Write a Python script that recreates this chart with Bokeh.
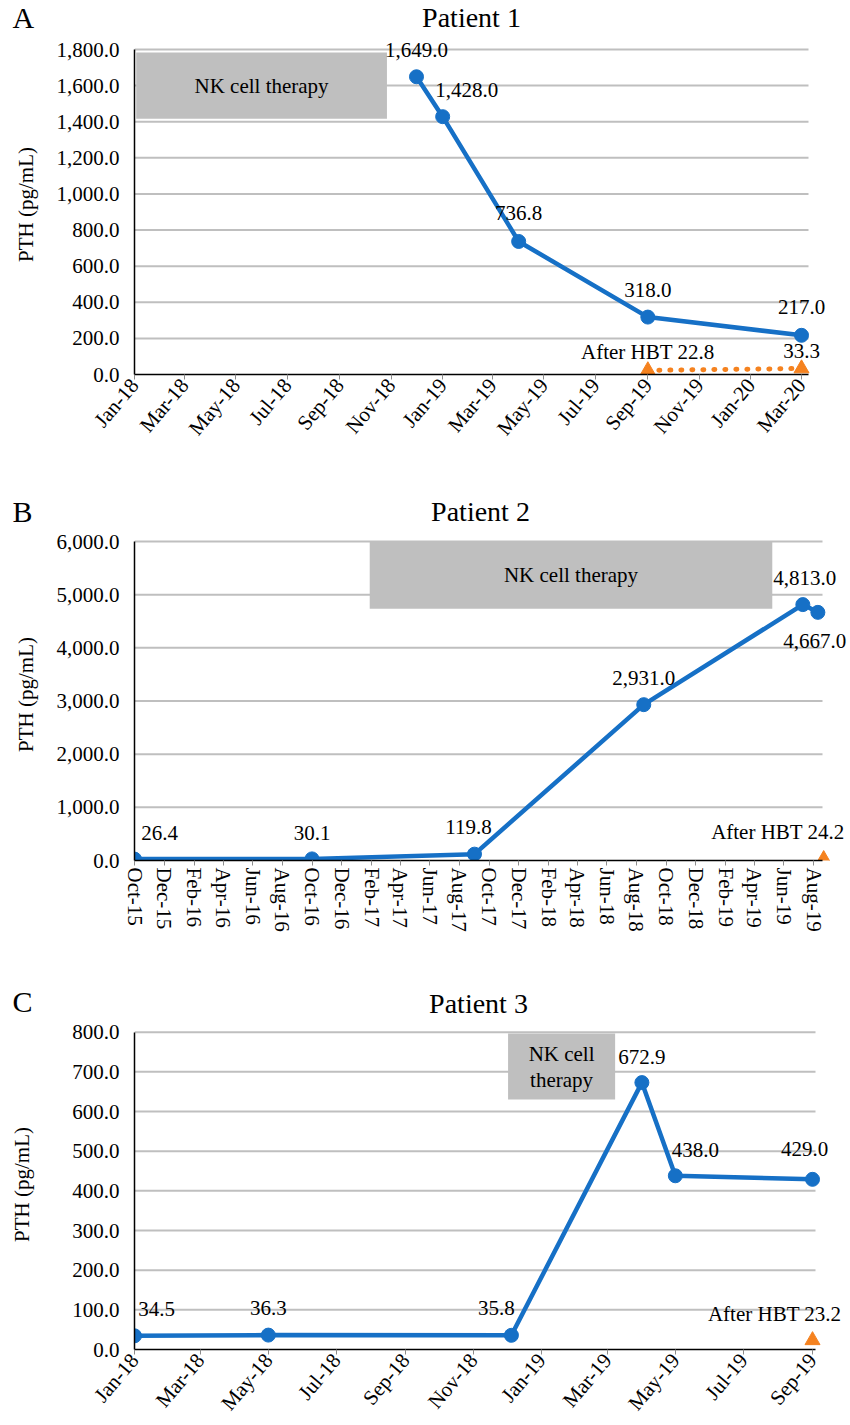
import pandas as pd
from bokeh.plotting import figure
from bokeh.layouts import column, row
from bokeh.models import (Range1d, FixedTicker, NumeralTickFormatter,
                          DatetimeTickFormatter, Label)
from bokeh.embed import file_html
from bokeh.resources import INLINE

# ---------------- data ----------------
# Patient 1
a_dates = ["2018-12-01", "2019-01-01", "2019-04-01", "2019-09-01", "2020-03-01"]
a_pth = [1649.0, 1428.0, 736.8, 318.0, 217.0]
a_hbt_dates = ["2019-09-01", "2020-03-01"]
a_hbt_pth = [22.8, 33.3]
a_ticks = ["Jan-18", "Mar-18", "May-18", "Jul-18", "Sep-18", "Nov-18", "Jan-19",
           "Mar-19", "May-19", "Jul-19", "Sep-19", "Nov-19", "Jan-20", "Mar-20"]
a_yticks = [0, 200, 400, 600, 800, 1000, 1200, 1400, 1600, 1800]

# Patient 2
b_dates = ["2015-10-01", "2016-10-01", "2017-09-01", "2018-08-16", "2019-07-10", "2019-08-10"]
b_pth = [26.4, 30.1, 119.8, 2931.0, 4813.0, 4667.0]
b_hbt_dates = ["2019-08-22"]
b_hbt_pth = [24.2]
b_ticks = ["Oct-15", "Dec-15", "Feb-16", "Apr-16", "Jun-16", "Aug-16", "Oct-16", "Dec-16",
           "Feb-17", "Apr-17", "Jun-17", "Aug-17", "Oct-17", "Dec-17", "Feb-18", "Apr-18",
           "Jun-18", "Aug-18", "Oct-18", "Dec-18", "Feb-19", "Apr-19", "Jun-19", "Aug-19"]
b_yticks = [0, 1000, 2000, 3000, 4000, 5000, 6000]

# Patient 3
c_dates = ["2018-01-01", "2018-05-01", "2018-12-05", "2019-04-01", "2019-05-01", "2019-09-01"]
c_pth = [34.5, 36.3, 35.8, 672.9, 438.0, 429.0]
c_hbt_dates = ["2019-09-01"]
c_hbt_pth = [23.2]
c_ticks = ["Jan-18", "Mar-18", "May-18", "Jul-18", "Sep-18", "Nov-18", "Jan-19",
           "Mar-19", "May-19", "Jul-19", "Sep-19"]
c_yticks = [0, 100, 200, 300, 400, 500, 600, 700, 800]

# ---------------- styling / placement ----------------
FONT = "Liberation Serif"
BLUE = "#1670C6"
ORANGE = "#F5821F"
GRID = "#BFBFBF"
BOX = "#BFBFBF"
W = 850
LEFT = 134

# data-label offsets (pixels): dx, dy (up)
a_off = [(0, 27), (24, 27), (0, 28), (0, 27), (0, 28)]
a_hbt_off = [(0, 18), (0, 17)]
b_off = [(25, 26), (0, 26), (-6, 27), (0, 27), (2, 27), (-3, -29)]
b_hbt_off = (21, 27)
c_off = [(22, 27), (0, 27), (-15, 27), (0, 26), (20, 26), (-8, 30)]
c_hbt_off = (29, 26)


def ms(d):
    return pd.Timestamp(d).value / 1e6


def tick_ms(lbl):
    return float(pd.to_datetime(lbl, format="%b-%y").value // 10**6)


def blank(width, height, x0, x1):
    h = figure(width=width, height=height, x_range=Range1d(x0, x1), y_range=Range1d(0, height),
               output_backend="svg", toolbar_location=None, title=None,
               x_axis_location=None, y_axis_location=None,
               min_border=0, min_border_left=0, min_border_right=0,
               min_border_top=0, min_border_bottom=0)
    h.outline_line_color = None
    h.grid.visible = False
    return h


def header(height, letter, title, title_x, letter_y, title_y):
    hl = blank(LEFT, height, 0, LEFT)
    hl.add_layout(Label(x=12, y=letter_y, text=letter, text_font=FONT, text_font_size="30px",
                        text_color="black", text_align="left", text_baseline="middle"))
    ht = blank(W - LEFT, height, LEFT, W)
    ht.add_layout(Label(x=title_x, y=title_y, text=title, text_font=FONT,
                        text_font_size="28px", text_color="black", text_align="center",
                        text_baseline="middle"))
    return row(hl, ht, spacing=0)


def make_fig(height, ticks, last_tick_px, grid_end_px, yticks, top_grid_px, zero_px,
             frame_top_px, orient, ylab_standoff):
    t0, t1 = tick_ms(ticks[0]), tick_ms(ticks[-1])
    ppm = (last_tick_px - LEFT) / (t1 - t0)          # pixels per ms
    x_end = t0 + (W - LEFT) / ppm
    grid_end = t0 + (grid_end_px - LEFT) / ppm
    ymax = yticks[-1]
    y_end = ymax * (zero_px - frame_top_px) / (zero_px - top_grid_px)
    bottom = height - (zero_px - frame_top_px)

    p = figure(width=W, height=height, x_axis_type="datetime", title=None,
               x_range=Range1d(t0, x_end), y_range=Range1d(0, y_end),
               output_backend="svg", toolbar_location=None,
               min_border_left=LEFT, min_border_right=0,
               min_border_top=0, min_border_bottom=bottom)
    p.outline_line_color = None
    p.background_fill_color = "white"
    p.border_fill_color = "white"
    p.grid.visible = False

    # horizontal gridlines ending where the category axis ends
    p.segment(x0=[t0] * (len(yticks) - 1), x1=[grid_end] * (len(yticks) - 1),
              y0=yticks[1:], y1=yticks[1:], line_color=GRID, line_width=2)

    tvals = [tick_ms(t) for t in ticks]
    p.xaxis.ticker = FixedTicker(ticks=tvals)
    p.xaxis.formatter = DatetimeTickFormatter(days="%b-%y", months="%b-%y", years="%b-%y")
    p.xaxis.major_label_overrides = {v: t for v, t in zip(tvals, ticks)}
    p.xaxis.major_label_orientation = orient
    p.xaxis.major_tick_line_color = "#8C8C8C"
    p.xaxis.major_tick_out = 5
    p.xaxis.major_tick_in = 0
    p.xaxis.minor_tick_line_color = None
    p.xaxis.major_label_standoff = 2
    p.xaxis.bounds = (t0, grid_end)

    p.yaxis.ticker = FixedTicker(ticks=yticks)
    p.yaxis.formatter = NumeralTickFormatter(format="0,0.0")
    p.yaxis.major_tick_line_color = None
    p.yaxis.minor_tick_line_color = None
    p.yaxis.major_tick_out = 0
    p.yaxis.major_label_standoff = 15
    p.yaxis.bounds = (0, ymax)
    p.yaxis.axis_label = "PTH (pg/mL)"
    p.yaxis.axis_label_text_font = FONT
    p.yaxis.axis_label_text_font_size = "21px"
    p.yaxis.axis_label_text_font_style = "normal"
    p.yaxis.axis_label_text_color = "black"
    p.yaxis.axis_label_standoff = ylab_standoff

    for ax in (p.xaxis[0], p.yaxis[0]):
        ax.axis_line_color = "black"
        ax.axis_line_width = 1.5
        ax.major_label_text_font = FONT
        ax.major_label_text_font_size = "21px"
        ax.major_label_text_color = "black"
    return p


def txt(p, x, y, text, size="21px", align="center", dx=0, dy=0):
    p.add_layout(Label(x=x, y=y, text=text, x_offset=dx, y_offset=dy, text_font=FONT,
                       text_font_size=size, text_color="black", text_align=align,
                       text_baseline="middle"))


def nk_box(p, x0, x1, y0, y1, lines, gap=26):
    p.quad(left=[ms(x0)], right=[ms(x1)], bottom=[y0], top=[y1],
           fill_color=BOX, line_color=None)
    xc = (ms(x0) + ms(x1)) / 2
    yc = (y0 + y1) / 2
    n = len(lines)
    for i, ln in enumerate(lines):
        txt(p, xc, yc, ln, dy=(n - 1) * gap / 2 - i * gap)


def series(p, dates, vals, offs, hbt_dates, hbt_vals):
    xs = [ms(d) for d in dates]
    p.line(xs, vals, line_color=BLUE, line_width=4.5)
    p.scatter(xs, vals, size=14, fill_color=BLUE, line_color=BLUE)
    for x, v, (dx, dy) in zip(xs, vals, offs):
        txt(p, x, v, f"{v:,.1f}", dx=dx, dy=dy)
    hx = [ms(d) for d in hbt_dates]
    p.scatter(hx, hbt_vals, marker="triangle", size=15, fill_color=ORANGE, line_color=ORANGE)
    return hx


ANG = 0.87

# ---------------- Panel A ----------------
ha = header(34, "A", "Patient 1", 471, 17, 17)
pa = make_fig(446, a_ticks, 801, 808, a_yticks, 49, 374, 34, ANG, 16)
nk_box(pa, "2018-01-03", "2018-10-27", 1417, 1783, ["NK cell therapy"])
hx = series(pa, a_dates, a_pth, a_off, a_hbt_dates, a_hbt_pth)
pa.line(hx, a_hbt_pth, line_color=ORANGE, line_width=5, line_dash="1 10", line_cap="round")
txt(pa, hx[0], a_hbt_pth[0], f"After HBT {a_hbt_pth[0]:.1f}", dx=a_hbt_off[0][0], dy=a_hbt_off[0][1])
txt(pa, hx[1], a_hbt_pth[1], f"{a_hbt_pth[1]:.1f}", dx=a_hbt_off[1][0], dy=a_hbt_off[1][1])

# ---------------- Panel B ----------------
hb = header(48, "B", "Patient 2", 480, 17, 17)
pb = make_fig(447, b_ticks, 813, 822, b_yticks, 541, 860, 528, "vertical", 16)
nk_box(pb, "2017-01-28", "2019-05-08", 4737, 5990, ["NK cell therapy"])
hx = series(pb, b_dates, b_pth, b_off, b_hbt_dates, b_hbt_pth)
txt(pb, hx[0], b_hbt_pth[0], f"After HBT {b_hbt_pth[0]:.1f}", align="right",
    dx=b_hbt_off[0], dy=b_hbt_off[1])

# ---------------- Panel C ----------------
hc = header(44, "C", "Patient 3", 478, 18, 16)
pc = make_fig(406, c_ticks, 812, 815, c_yticks, 1032, 1357, 1019, ANG, 35)
nk_box(pc, "2018-12-02", "2019-03-08", 630, 797, ["NK cell", "therapy"])
hx = series(pc, c_dates, c_pth, c_off, c_hbt_dates, c_hbt_pth)
txt(pc, hx[0], c_hbt_pth[0], f"After HBT {c_hbt_pth[0]:.1f}", align="right",
    dx=c_hbt_off[0], dy=c_hbt_off[1])

layout = column(ha, pa, hb, pb, hc, pc, spacing=0)
open("out.html", "w").write(file_html(layout, INLINE))
